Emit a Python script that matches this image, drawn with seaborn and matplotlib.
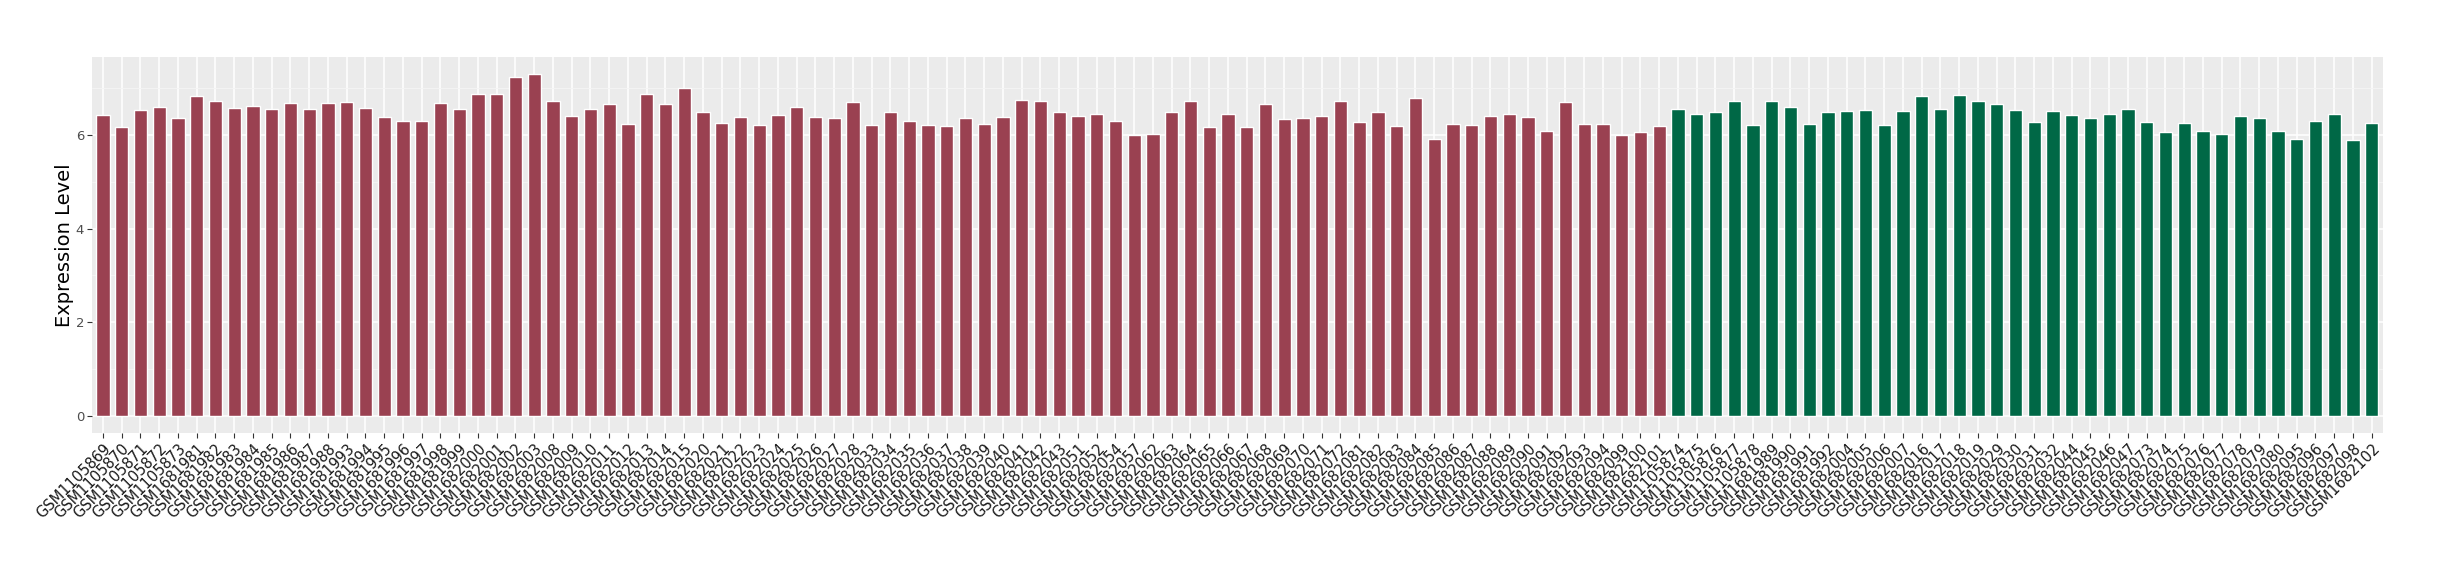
import numpy as np
import pandas as pd
import seaborn as sns
import matplotlib
matplotlib.use("Agg")
import matplotlib.pyplot as plt
from matplotlib.ticker import FixedLocator

# ---- data -----------------------------------------------------------------
group_a_samples = [
    "GSM1105869", "GSM1105870", "GSM1105871", "GSM1105872", "GSM1105873",
    "GSM1681981", "GSM1681982", "GSM1681983", "GSM1681984", "GSM1681985",
    "GSM1681986", "GSM1681987", "GSM1681988", "GSM1681993", "GSM1681994",
    "GSM1681995", "GSM1681996", "GSM1681997", "GSM1681998", "GSM1681999",
    "GSM1682000", "GSM1682001", "GSM1682002", "GSM1682003", "GSM1682008",
    "GSM1682009", "GSM1682010", "GSM1682011", "GSM1682012", "GSM1682013",
    "GSM1682014", "GSM1682015", "GSM1682020", "GSM1682021", "GSM1682022",
    "GSM1682023", "GSM1682024", "GSM1682025", "GSM1682026", "GSM1682027",
    "GSM1682028", "GSM1682033", "GSM1682034", "GSM1682035", "GSM1682036",
    "GSM1682037", "GSM1682038", "GSM1682039", "GSM1682040", "GSM1682041",
    "GSM1682042", "GSM1682043", "GSM1682051", "GSM1682052", "GSM1682054",
    "GSM1682057", "GSM1682062", "GSM1682063", "GSM1682064", "GSM1682065",
    "GSM1682066", "GSM1682067", "GSM1682068", "GSM1682069", "GSM1682070",
    "GSM1682071", "GSM1682072", "GSM1682081", "GSM1682082", "GSM1682083",
    "GSM1682084", "GSM1682085", "GSM1682086", "GSM1682087", "GSM1682088",
    "GSM1682089", "GSM1682090", "GSM1682091", "GSM1682092", "GSM1682093",
    "GSM1682094", "GSM1682099", "GSM1682100", "GSM1682101",
]
group_a_values = [
    6.43, 6.16, 6.52, 6.60, 6.35, 6.82, 6.71, 6.58, 6.62, 6.54,
    6.67, 6.56, 6.67, 6.69, 6.58, 6.37, 6.30, 6.30, 6.67, 6.54,
    6.88, 6.88, 7.24, 7.30, 6.73, 6.41, 6.56, 6.65, 6.24, 6.86,
    6.65, 6.99, 6.48, 6.26, 6.37, 6.20, 6.43, 6.60, 6.37, 6.35,
    6.69, 6.20, 6.48, 6.30, 6.20, 6.18, 6.35, 6.22, 6.37, 6.75,
    6.73, 6.48, 6.39, 6.45, 6.30, 5.99, 6.01, 6.48, 6.71, 6.16,
    6.45, 6.16, 6.65, 6.33, 6.35, 6.39, 6.71, 6.28, 6.48, 6.18,
    6.79, 5.90, 6.24, 6.20, 6.39, 6.45, 6.37, 6.09, 6.69, 6.24,
    6.24, 5.99, 6.07, 6.18,
]

group_b_samples = [
    "GSM1105874", "GSM1105875", "GSM1105876", "GSM1105877", "GSM1105878",
    "GSM1681989", "GSM1681990", "GSM1681991", "GSM1681992", "GSM1682004",
    "GSM1682005", "GSM1682006", "GSM1682007", "GSM1682016", "GSM1682017",
    "GSM1682018", "GSM1682019", "GSM1682029", "GSM1682030", "GSM1682031",
    "GSM1682032", "GSM1682044", "GSM1682045", "GSM1682046", "GSM1682047",
    "GSM1682073", "GSM1682074", "GSM1682075", "GSM1682076", "GSM1682077",
    "GSM1682078", "GSM1682079", "GSM1682080", "GSM1682095", "GSM1682096",
    "GSM1682097", "GSM1682098", "GSM1682102",
]
group_b_values = [
    6.54, 6.45, 6.48, 6.73, 6.20, 6.73,
    6.60, 6.24, 6.48, 6.50, 6.52, 6.20, 6.50, 6.82, 6.54, 6.84,
    6.71, 6.65, 6.52, 6.28, 6.50, 6.43, 6.35, 6.45, 6.54, 6.28,
    6.07, 6.26, 6.09, 6.01, 6.39, 6.35, 6.09, 5.92, 6.30, 6.45,
    5.88, 6.26,
]

group_names = ["Group A", "Group B"]
group_colors = {"Group A": "#9A4151", "Group B": "#006846"}

df = pd.DataFrame({
    "sample": group_a_samples + group_b_samples,
    "value": group_a_values + group_b_values,
    "group": [group_names[0]] * len(group_a_samples) + [group_names[1]] * len(group_b_samples),
})
order = group_a_samples + group_b_samples

# ---- plot -----------------------------------------------------------------
sns.set_theme(style="darkgrid", rc={
    "axes.facecolor": "#EBEBEB",
    "grid.color": "white",
    "axes.edgecolor": "white",
})
plt.rcParams["font.family"] = ["DejaVu Sans"]

fig = plt.figure(figsize=(24.4, 5.8), dpi=100)
ax = fig.add_axes([91.7 / 2440, 1 - 433.3 / 580, (2383 - 91.7) / 2440, (433.3 - 56.7) / 580])

sns.barplot(data=df, x="sample", y="value", hue="group", order=order,
            palette=group_colors, width=0.7, dodge=False, saturation=1,
            legend=False, ax=ax, errorbar=None)

n = len(order)
ax.set_xlim(-0.6, n - 1 + 0.6)
ax.set_ylim(-0.365, 7.665)
ax.yaxis.set_major_locator(FixedLocator([0, 2, 4, 6]))
ax.yaxis.set_minor_locator(FixedLocator([1, 3, 5, 7]))
ax.grid(True, which="major", axis="both", color="white", linewidth=1.1)
ax.grid(True, which="minor", axis="y", color="#F5F5F5", linewidth=0.6)
ax.set_axisbelow(True)
for s in ax.spines.values():
    s.set_visible(False)

ax.tick_params(axis="both", which="major", length=3.5, width=0.8, color="#333333",
               direction="out", bottom=True, left=True)
ax.tick_params(axis="y", which="major", labelsize=9.5, labelcolor="#4D4D4D", pad=2)
ax.tick_params(axis="y", which="minor", length=0)
ax.tick_params(axis="x", which="major", labelsize=10.5, labelcolor="#1A1A1A", pad=2)
ax.set_xticks(range(n))
ax.set_xticklabels(order, rotation=45, ha="right", va="top", rotation_mode="anchor")

ax.set_xlabel("")
ax.set_ylabel("Expression Level", fontsize=14, color="black", labelpad=1)

fig.savefig("out.png", dpi=100, facecolor="white")
